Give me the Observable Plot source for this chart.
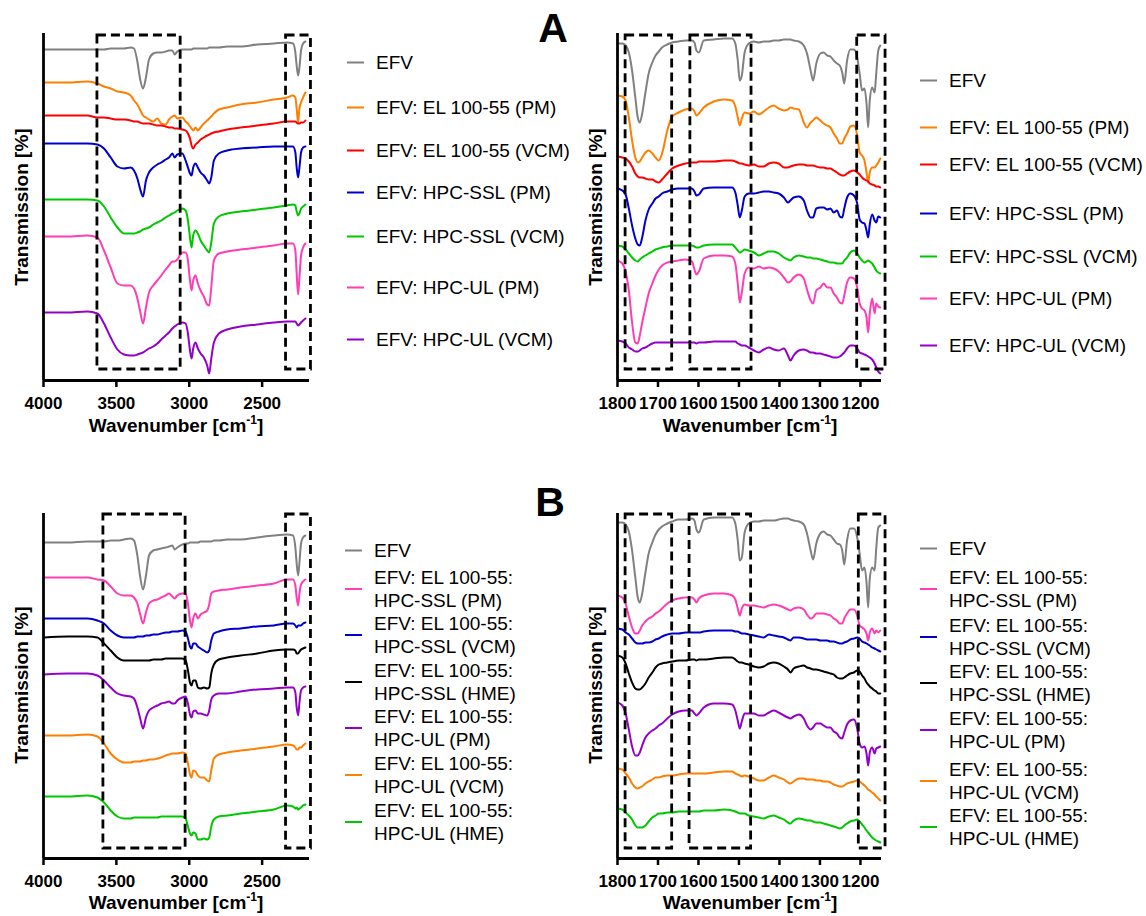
<!DOCTYPE html>
<html>
<head>
<meta charset="utf-8">
<script src="https://cdn.jsdelivr.net/npm/d3@7"></script>
<script src="https://cdn.jsdelivr.net/npm/@observablehq/plot@0.6"></script>
<style>
  html, body { margin: 0; padding: 0; background: #fff; }
  #page { position: relative; width: 1146px; height: 916px; overflow: hidden; font-family: "Liberation Sans", Arial, Helvetica, sans-serif; color: #000; background:#fff; }
  .panel { position: absolute; }
  .panel svg { display: block; background: transparent; overflow: visible; max-width: none; }
  .panel svg text { font-weight: bold; font-size: 17px; }
  .ytitle { position: absolute; font-size: 19px; font-weight: bold; white-space: nowrap; line-height: 19px; transform: translate(-50%, -50%) rotate(-90deg); }
  .xtitle { position: absolute; font-size: 19px; font-weight: bold; white-space: nowrap; line-height: 19px; transform: translateX(-50%); }
  .xtitle sup { font-size: 12px; vertical-align: 0; position: relative; top: -8px; }
  .letter { position: absolute; font-size: 41px; font-weight: bold; line-height: 41px; transform: translateX(-50%); }
  .legrow { position: absolute; display: flex; align-items: center; font-size: 19px; line-height: 23px; white-space: pre; transform: translateY(-50%); }
  .sw { width: 17px; height: 2px; margin-right: 12px; flex: none; }
</style>
</head>
<body>
<div id="page"></div>
<script>
// ---------------- DATA ----------------
// wavenumber grids [cm-1]
const wnHigh = [3995,3836,3699,3630,3585,3539,3493,3448,3402,3379,3356,3338,3317,3297,3276,3247,3219,3192,3162,3139,3116,3100,3082,3048,3025,3009,2995,2984,2973,2957,2941,2922,2900,2877,2863,2849,2831,2797,2740,2648,2534,2420,2329,2288,2272,2263,2253,2244,2233,2219,2203];
const wnLow = [1800,1788,1780,1772,1764,1756,1750,1745,1739,1731,1723,1714,1706,1698,1690,1677,1665,1649,1632,1616,1610,1605,1599,1587,1562,1537,1517,1509,1503,1498,1493,1486,1476,1463,1451,1439,1426,1414,1402,1389,1379,1373,1365,1352,1340,1332,1323,1317,1309,1299,1291,1282,1274,1266,1258,1251,1245,1240,1233,1225,1216,1208,1202,1196,1190,1185,1181,1177,1171,1165,1161,1156,1151];

// tick labels
const ticksHigh = [4000, 3500, 3000, 2500];
const ticksLow = [1800, 1700, 1600, 1500, 1400, 1300, 1200];

// series names
const namesA = ["EFV","EFV: EL 100-55 (PM)","EFV: EL 100-55 (VCM)","EFV: HPC-SSL (PM)","EFV: HPC-SSL (VCM)","EFV: HPC-UL (PM)","EFV: HPC-UL (VCM)"];
const namesB = ["EFV","EFV: EL 100-55:\nHPC-SSL (PM)","EFV: EL 100-55:\nHPC-SSL (VCM)","EFV: EL 100-55:\nHPC-SSL (HME)","EFV: EL 100-55:\nHPC-UL (PM)","EFV: EL 100-55:\nHPC-UL (VCM)","EFV: EL 100-55:\nHPC-UL (HME)"];

// Panel A, 4000-2200 cm-1 (stacked transmission, arbitrary offset units)
const aHiEFV   = [331,331,331,331,331,332,332,332,333,332,319,302,292,303,321,327,328,328,329,330,330,326,329,331,331,331,331,331,332,332,332,332,332,332,333,333,333,333,334,334,336,337,338,337,328,315,305,313,330,337,339];
const aHiELPM  = [298,298,299,297,294,292,289,288,285,280,276,271,265,263,261,259,262,257,256,261,264,265,262,263,259,257,254,252,250,253,250,253,257,260,262,264,267,271,273,276,278,281,283,285,283,272,258,272,278,283,288];
const aHiELVCM = [265,265,265,263,263,262,261,261,260,259,259,258,257,257,257,256,255,255,254,253,253,252,252,251,250,247,242,235,232,236,238,241,243,245,246,247,248,249,251,253,255,257,259,259,259,258,257,257,258,258,260];
const aHiSSLPM = [237,237,237,236,232,223,214,212,213,210,202,192,184,200,208,213,216,218,221,223,227,223,226,227,220,213,207,205,213,217,213,208,205,200,197,203,220,227,230,232,233,234,234,234,228,213,203,213,228,233,234];
const aHiSSLVCM= [181,181,181,180,174,163,153,147,147,147,148,149,151,152,153,156,158,160,163,165,167,168,170,172,170,160,143,133,145,150,147,140,135,130,128,138,157,164,167,169,171,173,175,176,175,169,165,167,172,174,176];
const aHiULPM  = [144,144,145,143,130,113,97,95,95,92,82,70,57,73,88,95,100,105,111,115,119,119,121,128,128,120,100,90,100,105,97,90,84,76,75,93,120,127,129,131,133,135,137,137,130,107,86,103,125,133,137];
const aHiULVCM = [68,68,69,67,57,43,31,26,25,25,26,27,28,30,32,34,37,41,45,48,52,54,56,58,57,47,30,22,32,38,32,27,23,15,7,22,38,47,51,54,56,58,59,59,59,57,55,56,58,60,62];

// Panel A, 1800-1150 cm-1
const aLoEFV   = [337,337,335,328,310,283,263,258,267,288,307,318,325,329,333,336,338,339,340,340,338,330,328,340,341,342,342,337,320,300,305,328,337,339,338,339,339,340,340,341,341,341,340,339,335,327,310,300,317,327,328,325,324,320,317,315,308,297,320,331,331,323,307,290,292,277,253,280,293,288,307,330,335];
const aLoELPM  = [285,284,280,263,240,223,218,219,223,228,230,227,223,220,227,250,264,268,271,272,269,265,267,273,279,281,280,274,263,255,262,268,267,269,266,269,273,275,272,270,271,273,272,271,258,253,258,260,263,260,257,255,253,247,242,237,237,242,247,254,255,245,228,225,220,208,198,208,213,213,215,218,222];
const aLoELVCM = [224,223,222,219,214,207,204,203,203,202,201,201,199,198,201,207,212,215,217,218,218,218,219,219,219,220,220,219,218,217,217,216,215,216,214,214,217,218,217,213,213,214,215,216,216,215,215,215,214,213,213,212,212,210,208,206,205,205,207,209,210,208,206,203,201,200,199,197,196,195,194,194,193];
const aLoSSLPM = [192,190,186,172,155,142,136,135,143,160,171,177,182,184,187,189,191,192,192,192,189,185,186,192,193,193,193,188,175,163,170,184,187,187,188,189,189,188,187,183,178,180,183,184,180,170,163,163,172,173,173,171,172,168,170,164,163,172,183,187,185,177,161,158,157,150,143,156,166,160,158,164,163];
const aLoSSLVCM= [135,134,131,127,123,120,119,121,123,125,127,129,131,132,133,134,135,135,135,135,134,133,133,135,136,136,136,133,130,128,129,131,130,128,125,127,129,129,127,123,121,120,123,125,124,123,123,122,122,121,120,119,118,118,117,117,117,120,123,128,130,127,123,120,118,119,120,119,117,113,110,108,107];
const aLoULPM  = [120,117,109,90,58,38,37,45,58,73,87,97,105,111,115,118,119,120,121,119,111,106,109,122,125,125,124,117,97,78,88,107,113,112,114,112,113,112,109,103,98,99,103,106,102,91,80,77,90,93,97,93,93,87,83,78,77,85,98,103,102,93,77,72,70,63,48,67,82,67,77,74,73];
const aLoULVCM = [40,39,37,33,31,29,29,30,32,33,35,37,38,38,38,38,38,38,38,38,38,37,38,38,39,39,39,39,37,36,35,35,33,30,28,31,33,31,30,32,25,20,25,30,31,30,28,28,27,27,26,25,24,23,23,24,26,28,32,35,35,32,28,27,26,25,24,23,21,17,13,9,7];

// Panel B, 4000-2200 cm-1
const bHiEFV    = [316,316,317,317,317,318,318,319,320,318,303,283,269,283,303,308,309,310,311,312,313,309,311,314,315,315,316,316,316,316,316,317,317,317,317,317,318,318,319,319,321,323,324,323,311,295,283,296,315,321,323];
const bHiSSLPM  = [281,281,281,279,278,272,265,263,263,261,255,245,235,246,255,258,259,261,263,265,262,260,263,265,265,255,238,231,240,245,240,244,246,248,254,265,267,268,269,271,273,275,279,279,273,261,253,265,274,277,279];
const bHiSSLVCM = [240,240,240,238,235,228,223,221,221,221,222,222,222,223,223,224,224,225,226,226,227,227,227,228,227,220,212,210,215,215,212,210,208,206,208,218,225,227,229,230,232,233,235,235,233,231,233,233,233,235,236];
const bHiSSLHME = [221,222,222,221,215,208,201,198,198,198,198,198,198,198,198,199,199,199,200,200,200,200,200,200,198,188,176,173,178,178,171,170,171,170,171,185,194,199,201,203,205,208,209,209,208,205,205,207,209,210,211];
const bHiULPM   = [184,185,185,183,178,171,165,163,162,160,151,141,130,141,148,151,153,155,156,157,155,155,158,161,162,155,144,141,147,148,145,145,144,143,148,159,163,165,165,167,169,170,171,171,166,151,143,156,168,171,172];
const bHiULVCM  = [123,123,124,122,115,105,99,96,96,97,97,97,98,98,99,99,100,101,103,104,105,105,105,106,105,95,84,81,88,87,83,81,81,78,77,88,100,104,106,108,110,112,114,113,111,109,109,111,111,113,115];
const bHiULHME  = [62,62,63,61,56,48,42,40,40,41,41,41,41,41,41,41,41,42,42,42,42,42,42,42,40,32,25,23,26,25,19,19,20,19,21,32,39,42,43,45,47,49,53,52,50,51,49,50,51,53,54];

// Panel B, 1800-1150 cm-1
const bLoEFV    = [336,336,334,327,308,281,261,256,265,286,305,316,324,329,332,335,337,339,339,340,338,329,326,339,341,341,341,335,318,298,301,326,335,337,337,338,338,338,339,340,340,339,338,337,334,325,308,299,315,325,327,324,323,319,315,314,308,294,318,330,330,321,305,288,291,276,251,280,291,288,310,331,333];
const bLoSSLPM  = [263,261,255,242,231,225,225,228,233,237,240,242,245,247,250,255,258,260,261,261,259,256,260,263,265,265,263,259,250,243,250,254,253,253,252,251,253,254,253,251,249,248,250,251,249,244,240,241,245,245,245,244,243,240,238,235,235,240,245,249,249,243,233,231,229,225,218,226,230,225,228,226,228];
const bLoSSLVCM = [230,229,226,224,220,216,215,215,215,216,216,217,219,220,222,224,225,225,226,226,226,226,226,227,228,228,228,227,227,226,225,225,224,223,222,221,224,223,222,221,219,218,221,221,220,219,219,219,219,218,218,218,217,217,216,215,215,216,217,219,220,221,220,217,216,215,214,213,211,210,209,208,207];
const bLoSSLHME = [203,201,195,185,176,170,169,169,171,175,181,186,191,194,195,196,197,198,198,199,199,198,199,199,200,201,201,199,197,196,196,195,194,192,191,192,195,196,195,192,189,186,190,192,193,191,190,189,189,188,187,186,185,184,181,180,180,181,183,185,186,188,187,183,180,176,174,172,170,168,167,165,165];
const bLoULPM   = [156,153,145,129,112,103,103,106,113,121,125,128,130,133,135,140,144,147,148,148,145,143,145,151,155,155,154,148,138,130,137,145,145,145,143,143,146,148,146,143,141,140,142,144,140,133,129,131,135,135,133,131,131,127,125,121,120,126,134,138,139,130,115,111,112,105,93,106,111,105,110,111,112];
const bLoULVCM  = [90,89,85,81,75,71,70,71,72,75,77,79,81,81,82,83,83,84,85,85,85,85,85,85,86,87,87,85,84,83,82,83,82,80,78,78,81,83,81,79,76,75,77,80,80,79,79,79,78,78,77,77,76,74,73,72,72,73,75,76,77,78,77,75,73,71,69,68,66,64,62,60,58];
const bLoULHME  = [50,49,46,43,39,33,31,31,31,33,37,41,43,45,45,46,46,47,47,47,47,47,47,48,48,49,48,47,46,45,45,45,43,42,41,40,42,43,41,39,36,35,38,40,39,38,38,37,36,36,35,34,33,32,31,30,31,33,35,37,38,39,37,34,31,28,26,24,21,19,18,17,16];

// highlighted regions (dashed boxes) [from, to] in cm-1
const boxesAHigh = [[3630, 3059], [2336, 2165]];
const boxesALow  = [[1780, 1665], [1620, 1469], [1208, 1138]];
const boxesBHigh = [[3589, 3025], [2336, 2165]];
const boxesBLow  = [[1780, 1665], [1622, 1470], [1204, 1138]];

// ---------------- STYLE / LAYOUT ----------------
const colorsA = ["#808080","#ff7f00","#ff0000","#0000cd","#00c800","#ff3db4","#9400c8"];
const colorsB = ["#808080","#ff3db4","#0000cd","#000000","#9400c8","#ff7f00","#00c800"];
const FONT = '"Liberation Sans", Arial, Helvetica, sans-serif';

const page = document.getElementById("page");

function drawPanel(cfg) {
  const marks = [];
  cfg.series.forEach((vals, k) => {
    const n = Math.min(vals.length, cfg.wn.length);
    const rows = [];
    for (let i = 0; i < n; i++) rows.push({wn: cfg.wn[i], t: vals[i]});
    marks.push(Plot.line(rows, {x: "wn", y: "t", stroke: cfg.colors[k], strokeWidth: 2, curve: "monotone-x"}));
  });
  marks.push(Plot.rect(cfg.boxes.map(b => ({a: b[0], b: b[1], lo: cfg.boxY[0], hi: cfg.boxY[1]})),
    {x1: "a", x2: "b", y1: "lo", y2: "hi", fill: "none", stroke: "#000", strokeWidth: 2.8, strokeDasharray: "9,5"}));
  marks.push(Plot.ruleY([0], {stroke: "#000", strokeWidth: 2.8}));
  marks.push(Plot.ruleX([cfg.xDomain[0]], {stroke: "#000", strokeWidth: 2.8}));
  marks.push(Plot.axisX({ticks: cfg.ticks, tickSize: 7, tickPadding: 9, tickFormat: d => String(d),
    fontSize: 17, fontWeight: "bold", strokeWidth: 2.5, label: null}));
  const svg = Plot.plot({
    width: cfg.width, height: cfg.height,
    marginLeft: cfg.mL, marginRight: cfg.mR, marginTop: cfg.mT, marginBottom: cfg.mB,
    x: {domain: cfg.xDomain},
    y: {domain: [0, cfg.yTop], axis: null},
    style: {background: "transparent", overflow: "visible", fontFamily: FONT, color: "#000"},
    marks
  });
  const div = document.createElement("div");
  div.className = "panel";
  div.style.left = cfg.left + "px";
  div.style.top = cfg.top + "px";
  div.style.width = cfg.width + "px";
  div.style.height = cfg.height + "px";
  div.appendChild(svg);
  page.appendChild(div);

  // axis titles
  const yt = document.createElement("div");
  yt.className = "ytitle";
  yt.textContent = "Transmission [%]";
  yt.style.left = cfg.yTitle[0] + "px";
  yt.style.top = cfg.yTitle[1] + "px";
  page.appendChild(yt);
  const xt = document.createElement("div");
  xt.className = "xtitle";
  xt.innerHTML = "Wavenumber [cm<sup>-1</sup>]";
  xt.style.left = cfg.xTitle[0] + "px";
  xt.style.top = cfg.xTitle[1] + "px";
  page.appendChild(xt);

  // legend
  cfg.names.forEach((name, k) => {
    const row = document.createElement("div");
    row.className = "legrow";
    row.style.left = cfg.legX + "px";
    row.style.top = cfg.legY[k] + "px";
    const sw = document.createElement("div");
    sw.className = "sw";
    sw.style.background = cfg.colors[k];
    const tx = document.createElement("div");
    tx.textContent = name;
    row.appendChild(sw);
    row.appendChild(tx);
    page.appendChild(row);
  });
}

drawPanel({left: 0, top: 0, width: 330, height: 440, mL: 43, mR: 21, mT: 33, mB: 60, yTop: 347,
  xDomain: [4000, 2175], ticks: ticksHigh, wn: wnHigh, boxes: boxesAHigh, boxY: [11, 345],
  series: [aHiEFV, aHiELPM, aHiELVCM, aHiSSLPM, aHiSSLVCM, aHiULPM, aHiULVCM], colors: colorsA,
  names: namesA, legX: 347, legY: [62, 107, 150, 192, 236, 287, 339], yTitle: [21, 207], xTitle: [176, 416]});

drawPanel({left: 590, top: 0, width: 300, height: 440, mL: 27, mR: 9, mT: 33, mB: 60, yTop: 347,
  xDomain: [1800, 1148], ticks: ticksLow, wn: wnLow, boxes: boxesALow, boxY: [11, 345],
  series: [aLoEFV, aLoELPM, aLoELVCM, aLoSSLPM, aLoSSLVCM, aLoULPM, aLoULVCM], colors: colorsA,
  names: namesA, legX: 920, legY: [80, 127, 164, 213, 256, 298, 345], yTitle: [595, 207], xTitle: [750, 416]});

drawPanel({left: 0, top: 478, width: 330, height: 420, mL: 43, mR: 21, mT: 35, mB: 40, yTop: 345,
  xDomain: [4000, 2175], ticks: ticksHigh, wn: wnHigh, boxes: boxesBHigh, boxY: [10, 344],
  series: [bHiEFV, bHiSSLPM, bHiSSLVCM, bHiSSLHME, bHiULPM, bHiULVCM, bHiULHME], colors: colorsB,
  names: namesB, legX: 345, legY: [550, 589, 635, 682, 728, 775, 822], yTitle: [21, 685], xTitle: [176, 893]});

drawPanel({left: 590, top: 478, width: 300, height: 420, mL: 27, mR: 9, mT: 35, mB: 40, yTop: 345,
  xDomain: [1800, 1148], ticks: ticksLow, wn: wnLow, boxes: boxesBLow, boxY: [10, 344],
  series: [bLoEFV, bLoSSLPM, bLoSSLVCM, bLoSSLHME, bLoULPM, bLoULVCM, bLoULHME], colors: colorsB,
  names: namesB, legX: 920, legY: [548, 589, 637, 683, 730, 781, 827], yTitle: [595, 685], xTitle: [750, 893]});

// panel letters
[["A", 553, 8], ["B", 550, 482]].forEach(([t, x, y]) => {
  const d = document.createElement("div");
  d.className = "letter";
  d.textContent = t;
  d.style.left = x + "px";
  d.style.top = y + "px";
  page.appendChild(d);
});
</script>
</body>
</html>
